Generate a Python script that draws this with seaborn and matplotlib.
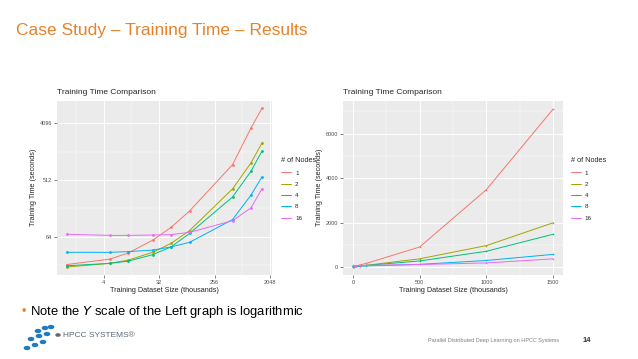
import numpy as np
import pandas as pd
import matplotlib
matplotlib.use("Agg")
import matplotlib.pyplot as plt
from matplotlib.lines import Line2D
from matplotlib.patches import Circle
from matplotlib.ticker import NullFormatter
import seaborn as sns

# dataset size in thousands
sizes = [1, 5, 10, 25, 50, 100, 500, 1000, 1500]
nodes = ["1", "2", "4", "8", "16"]
# training time in seconds, one list per node count
t_1 = [23, 28, 35, 56, 90, 164, 900, 3480, 7100]
t_2 = [21, 24, 27, 36, 50, 80, 370, 965, 1990]
t_4 = [22, 24, 26, 33, 44, 72, 275, 710, 1475]
t_8 = [36, 36, 37, 39, 44, 52, 120, 296, 570]
t_16 = [70, 67, 67, 68, 69, 75, 115, 185, 370]

palette = ["#F8766D", "#A3A500", "#00BF7D", "#00B0F6", "#E76BF3"]

rows = []
for n, times in zip(nodes, [t_1, t_2, t_4, t_8, t_16]):
    for s, t in zip(sizes, times):
        rows.append({"size": s, "time": t, "nodes": n})
df = pd.DataFrame(rows)

sns.set_theme(style="darkgrid")
plt.rcParams["font.family"] = ["Liberation Sans", "DejaVu Sans"]
plt.rcParams["axes.facecolor"] = "#EBEBEB"
plt.rcParams["grid.color"] = "white"

fig = plt.figure(figsize=(6.38, 3.59), dpi=100)
ax1 = fig.add_axes([0.0889, 0.234, 0.337, 0.486])
ax2 = fig.add_axes([0.5376, 0.234, 0.345, 0.486])


def style_axes(ax, legend_x):
    ax.grid(True, which="major", color="white", linewidth=0.7)
    ax.grid(True, which="minor", color="white", linewidth=0.35)
    for sp in ax.spines.values():
        sp.set_visible(False)
    ax.xaxis.set_minor_formatter(NullFormatter())
    ax.yaxis.set_minor_formatter(NullFormatter())
    ax.tick_params(axis="both", which="major", labelsize=4, colors="#4D4D4D",
                   length=2, width=0.5, pad=1.5, bottom=True, left=True)
    ax.tick_params(axis="both", which="minor", length=0)
    ax.set_xlabel("Training Dataset Size (thousands)", fontsize=5.2, labelpad=1.5)
    ax.set_ylabel("Training Time (seconds)", fontsize=5.2, labelpad=1.5)
    ax.set_title("Training Time Comparison", loc="left", fontsize=6, pad=5)
    handles = [Line2D([], [], color=c, linewidth=0.7, marker="o", markersize=1,
                      markeredgewidth=0) for c in palette]
    ax.legend(handles, nodes, title="# of Nodes", loc="upper left",
              bbox_to_anchor=(legend_x, 0.562), bbox_transform=fig.transFigure,
              frameon=False, fontsize=4.5, title_fontsize=5.3, handlelength=1.6,
              handletextpad=0.6, labelspacing=0.95, borderaxespad=0,
              borderpad=0, alignment="left")


# left: log2 scales
sns.lineplot(data=df, x="size", y="time", hue="nodes", hue_order=nodes,
             palette=palette, marker="o", markersize=2, markeredgewidth=0,
             linewidth=0.7, ax=ax1)
ax1.set_xscale("log", base=2)
ax1.set_yscale("log", base=2)
ax1.set_xlim(2 ** -0.53, 2 ** 11.08)
ax1.set_ylim(2 ** 3.97, 2 ** 13.21)
ax1.set_xticks([4, 32, 256, 2048])
ax1.set_xticklabels(["4", "32", "256", "2048"])
ax1.set_xticks([2 ** 0.5, 2 ** 3.5, 2 ** 6.5, 2 ** 9.5], minor=True)
ax1.set_yticks([64, 512, 4096])
ax1.set_yticklabels(["64", "512", "4096"])
ax1.set_yticks([2 ** 4.5, 2 ** 7.5, 2 ** 10.5], minor=True)
style_axes(ax1, 0.441)

# right: linear scales
sns.lineplot(data=df, x="size", y="time", hue="nodes", hue_order=nodes,
             palette=palette, marker="o", markersize=1.2, markeredgewidth=0,
             linewidth=0.7, ax=ax2)
ax2.set_xlim(-74, 1575)
ax2.set_ylim(-357, 7488)
ax2.set_xticks([0, 500, 1000, 1500])
ax2.set_xticks([250, 750, 1250], minor=True)
ax2.set_yticks([0, 2000, 4000, 6000])
ax2.set_yticks([1000, 3000, 5000, 7000], minor=True)
style_axes(ax2, 0.895)

# slide decoration
fig.text(0.025, 0.915, "Case Study \u2013 Training Time \u2013 Results", color="#E8822A",
         fontsize=12.5, ha="left", va="center")
fig.text(0.034, 0.131, "\u2022", color="#E8822A", fontsize=9, ha="left", va="center")
fig.text(0.047, 0.131, "Note the $\\mathit{Y}$ scale of the Left graph is logarithmic",
         color="black", fontsize=9.4, ha="left", va="center")
fig.text(0.671, 0.052, "Parallel Distributed Deep Learning on HPCC Systems",
         color="#808080", fontsize=4.0, ha="left", va="center")
fig.text(0.913, 0.052, "14", color="#333333", fontsize=5.5, fontweight="bold",
         ha="left", va="center")
fig.text(0.099, 0.065, "HPCC SYSTEMS\u00ae", color="#5A6A7A", fontsize=6,
         ha="left", va="center")
logo_px = [(38, 331), (45, 328), (51, 327),
           (31, 339), (39, 336), (47, 334),
           (27, 348), (35, 345), (43, 342)]
for px, py in logo_px:
    fig.add_artist(Circle((px / 638, 1 - py / 359), 2.6 / 638,
                          transform=fig.transFigure, color="#1F7BC1", zorder=5))
fig.add_artist(Circle((58 / 638, 1 - 335 / 359), 2.0 / 638,
                      transform=fig.transFigure, color="#6B6B6B", zorder=5))

fig.savefig("out.png", dpi=100)
